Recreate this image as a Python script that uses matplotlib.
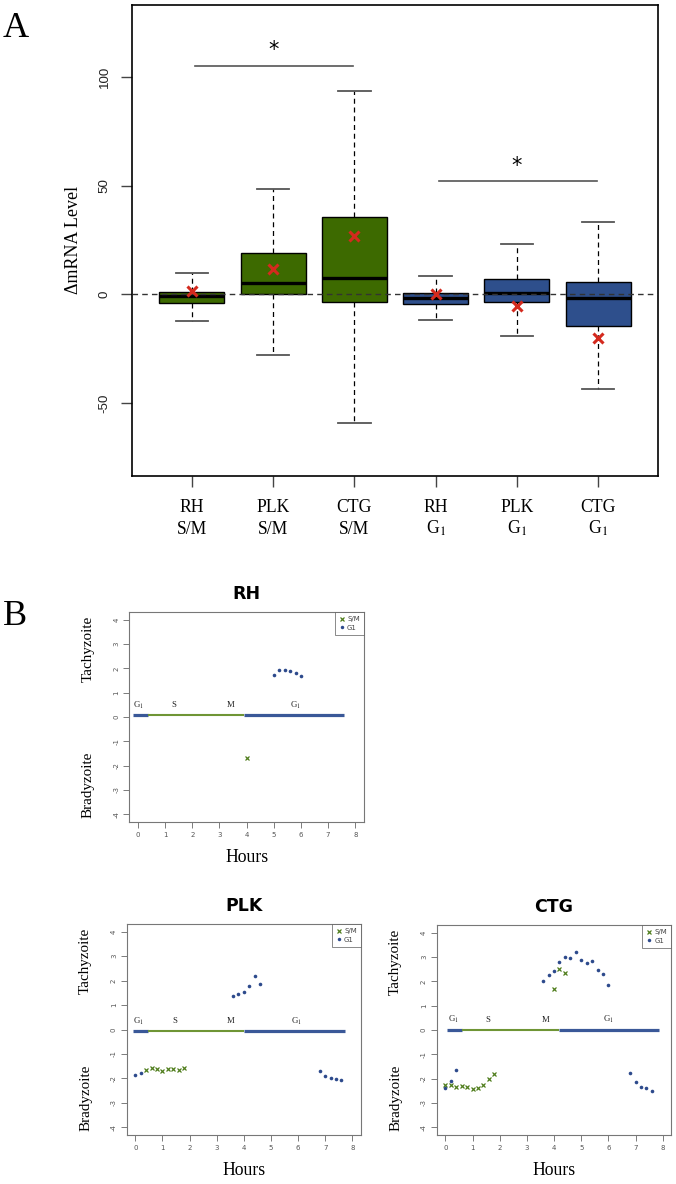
import matplotlib
matplotlib.use('Agg')
import matplotlib.pyplot as plt
from matplotlib.lines import Line2D
from matplotlib.transforms import blended_transform_factory

plt.rcParams['mathtext.fontset'] = 'stix'

# ---------------- Panel A data ----------------
strains_A = ['RH', 'PLK', 'CTG', 'RH', 'PLK', 'CTG']
phases_A = ['S/M', 'S/M', 'S/M', 'G$_1$', 'G$_1$', 'G$_1$']
whisker_low = [-12.3, -27.7, -59.3, -11.9, -19.3, -43.4]
quart1 = [-4.1, 0.0, -3.4, -4.3, -3.4, -14.6]
medians = [-0.6, 5.5, 7.8, -1.4, 0.8, -1.8]
quart3 = [1.2, 19.3, 35.6, 0.8, 7.2, 5.7]
whisker_high = [9.65, 48.5, 93.6, 8.6, 23.1, 33.5]
means = [1.4, 11.9, 27.0, 0.15, -5.4, -19.8]
sig_pairs = [(1, 3), (4, 6)]
sig_heights = [105.2, 52.1]

# ---------------- Panel B data ----------------
rh_sm_h = [4.0]
rh_sm_v = [-1.67]
rh_g1_h = [5.0, 5.2, 5.4, 5.6, 5.8, 6.0]
rh_g1_v = [1.71, 1.93, 1.93, 1.90, 1.82, 1.68]

plk_sm_h = [0.4, 0.6, 0.8, 1.0, 1.2, 1.4, 1.6, 1.8]
plk_sm_v = [-1.65, -1.58, -1.60, -1.69, -1.60, -1.60, -1.66, -1.56]
plk_g1_h = [0.0, 0.2, 3.6, 3.8, 4.0, 4.2, 4.4, 4.6, 6.8, 7.0, 7.2, 7.4, 7.6]
plk_g1_v = [-1.88, -1.78, 1.37, 1.45, 1.52, 1.80, 2.18, 1.85, -1.69, -1.89, -2.00, -2.03, -2.06]

ctg_sm_h = [0.0, 0.2, 0.4, 0.6, 0.8, 1.0, 1.2, 1.4, 1.6, 1.8, 4.0, 4.2, 4.4]
ctg_sm_v = [-2.27, -2.27, -2.33, -2.32, -2.36, -2.41, -2.40, -2.26, -2.01, -1.79, 1.70, 2.49, 2.34]
ctg_g1_h = [0.0, 0.2, 0.4, 3.6, 3.8, 4.0, 4.2, 4.4, 4.6, 4.8, 5.0, 5.2, 5.4, 5.6, 5.8, 6.0,
            6.8, 7.0, 7.2, 7.4, 7.6]
ctg_g1_v = [-2.40, -2.08, -1.64, 2.00, 2.26, 2.44, 2.79, 3.00, 2.96, 3.19, 2.86, 2.74, 2.84, 2.47,
            2.30, 1.85, -1.78, -2.14, -2.33, -2.38, -2.49]

# cell-cycle phase boundaries (hours): G1 start, S start, G1 start, end
rh_cycle = [-0.2, 0.35, 3.9, 7.6]
plk_cycle = [-0.07, 0.48, 4.02, 7.73]
ctg_cycle = [0.06, 0.6, 4.17, 7.87]
cycle_levels = [0.07, -0.08, 0.0]
phase_names = ['G$_1$', 'S', 'M', 'G$_1$']
rh_phase_h = [0.0, 1.31, 3.4, 5.8]
plk_phase_h = [0.1, 1.45, 3.53, 5.93]
ctg_phase_h = [0.3, 1.57, 3.68, 6.0]

# ---------------- styles ----------------
GREEN_BOX = '#3d6a00'
BLUE_BOX = '#2e4f8c'
RED = '#d42a1e'
PT_GREEN = '#4f7d1c'
PT_BLUE = '#2d4a8c'
LINE_BLUE = '#3a5898'
LINE_GREEN = '#6f9535'
SERIF = 'Liberation Serif'
SANS = 'Liberation Sans'

W, H = 676, 1184
fig = plt.figure(figsize=(W / 100, H / 100), dpi=100)


def add_ax(l, t, r, b):
    return fig.add_axes([l / W, 1 - b / H, (r - l) / W, (b - t) / H])


# ================= Panel A =================
axA = add_ax(131.7, 4.5, 658.3, 475.7)
positions = list(range(1, len(strains_A) + 1))
stats = [dict(med=m, q1=a, q3=b, whislo=lo, whishi=hi, label='')
         for m, a, b, lo, hi in zip(medians, quart1, quart3, whisker_low, whisker_high)]
bp = axA.bxp(stats, positions=positions, widths=0.8, capwidths=0.4, patch_artist=True,
             showfliers=False,
             boxprops=dict(edgecolor='black', linewidth=1.0),
             medianprops=dict(color='black', linewidth=2.4, solid_capstyle='butt'),
             whiskerprops=dict(color='black', linestyle=(0, (4, 3)), linewidth=0.9),
             capprops=dict(color='#555555', linewidth=1.3))
for i, patch in enumerate(bp['boxes']):
    patch.set_facecolor(GREEN_BOX if phases_A[i] == 'S/M' else BLUE_BOX)

axA.axhline(0, color='#333333', linestyle=(0, (4, 3)), linewidth=1.0, zorder=4)
axA.plot(positions, means, linestyle='none', marker='x', color=RED, markersize=7.5,
         markeredgewidth=2.2, zorder=6)

for (a, b), h in zip(sig_pairs, sig_heights):
    axA.plot([a + 0.04, b - 0.02], [h, h], color='#555555', linewidth=1.2)
    axA.text((a + b) / 2, h + 2.5, '*', ha='center', va='bottom', fontsize=15,
             family='DejaVu Sans', color='black')

axA.set_xlim(0.26, 6.74)
axA.set_ylim(-83.3, 133.3)
axA.set_yticks([-50, 0, 50, 100])
axA.set_yticklabels(['-50', '0', '50', '100'], rotation=90, va='center',
                    family=SANS, fontsize=9.6, color='#222222')
axA.set_xticks(positions)
axA.set_xticklabels([''] * len(positions))
axA.tick_params(axis='both', direction='out', length=8, width=1.0, color='#444444')
axA.tick_params(axis='y', pad=7)
for sp in axA.spines.values():
    sp.set_color('black')
    sp.set_linewidth(1.2)

tr = blended_transform_factory(axA.transData, axA.transAxes)
for p, s, ph in zip(positions, strains_A, phases_A):
    axA.text(p, -0.0764, s, transform=tr, ha='center', va='baseline', family=SERIF,
             fontsize=12.7)
    axA.text(p, -0.1237, ph, transform=tr, ha='center', va='baseline', family=SERIF,
             fontsize=12.7)

axA.text(-0.111, 0.5, '\u0394mRNA Level', transform=axA.transAxes, rotation=90,
         ha='center', va='center', family=SERIF, fontsize=13)

fig.text(15.5 / W, 1 - 37 / H, 'A', family=SERIF, fontsize=26, ha='center', va='baseline')
fig.text(15.5 / W, 1 - 625 / H, 'B', family=SERIF, fontsize=26, ha='center', va='baseline')


# ================= Panel B =================
def panel_b(ax, title, sm_h, sm_v, g1_h, g1_v, cycle, level, phase_h):
    ax.set_xlim(-0.32, 8.32)
    ax.set_ylim(-4.32, 4.32)
    segs = [(cycle[0], cycle[1], LINE_BLUE, 2.3),
            (cycle[1], cycle[2], LINE_GREEN, 1.5),
            (cycle[2], cycle[3], LINE_BLUE, 2.3)]
    for x0, x1, c, lw in segs:
        ax.plot([x0, x1], [level, level], color=c, linewidth=lw, solid_capstyle='butt')
    for h, name in zip(phase_h, phase_names):
        ax.text(h, level + 0.42, name, ha='center', va='center', family=SERIF,
                fontsize=6.3, color='#222222')
    ax.plot(sm_h, sm_v, linestyle='none', marker='x', color=PT_GREEN, markersize=3.5,
            markeredgewidth=0.9)
    ax.plot(g1_h, g1_v, linestyle='none', marker='o', color=PT_BLUE, markersize=2.6,
            markeredgewidth=0)
    ax.set_xticks(range(0, 9))
    ax.set_yticks(range(-4, 5))
    ax.set_yticklabels([str(v) for v in range(-4, 5)], rotation=90, va='center')
    ax.tick_params(axis='both', labelsize=5, labelcolor='#555555', color='#666666',
                   length=4, width=0.6, pad=3)
    for sp in ax.spines.values():
        sp.set_color('#777777')
        sp.set_linewidth(0.8)
    handles = [Line2D([], [], linestyle='none', marker='x', color=PT_GREEN, markersize=3,
                      markeredgewidth=0.9),
               Line2D([], [], linestyle='none', marker='o', color=PT_BLUE, markersize=2.5,
                      markeredgewidth=0)]
    leg = ax.legend(handles, ['S/M', 'G1'], loc='upper right', fontsize=5, frameon=True,
                    fancybox=False, borderaxespad=0, handlelength=0.8, handletextpad=0.4,
                    borderpad=0.6, labelspacing=0.35)
    leg.get_frame().set_edgecolor('#555555')
    leg.get_frame().set_linewidth(0.6)
    for t in leg.get_texts():
        t.set_color('#444444')
    ax.text(0.5, 1.06, title, transform=ax.transAxes, ha='center', va='baseline',
            family='DejaVu Sans', fontweight='bold', fontsize=12.5)
    ax.text(0.5, -0.17, 'Hours', transform=ax.transAxes, ha='center', va='center',
            family=SERIF, fontsize=12.7)
    trb = blended_transform_factory(ax.transAxes, ax.transData)
    xoff = -41 / (ax.get_position().width * W)
    ax.text(xoff, 2.8, 'Tachyzoite', transform=trb, rotation=90, ha='center', va='center',
            family=SERIF, fontsize=10.9)
    ax.text(xoff, -2.8, 'Bradyzoite', transform=trb, rotation=90, ha='center', va='center',
            family=SERIF, fontsize=10.9)


ax_rh = add_ax(129.3, 612, 364, 822)
panel_b(ax_rh, 'RH', rh_sm_h, rh_sm_v, rh_g1_h, rh_g1_v, rh_cycle, cycle_levels[0], rh_phase_h)
ax_plk = add_ax(126.7, 924, 361, 1135)
panel_b(ax_plk, 'PLK', plk_sm_h, plk_sm_v, plk_g1_h, plk_g1_v, plk_cycle, cycle_levels[1],
        plk_phase_h)
ax_ctg = add_ax(436.7, 925, 671.4, 1135)
panel_b(ax_ctg, 'CTG', ctg_sm_h, ctg_sm_v, ctg_g1_h, ctg_g1_v, ctg_cycle, cycle_levels[2],
        ctg_phase_h)

fig.savefig('out.png', dpi=100)
